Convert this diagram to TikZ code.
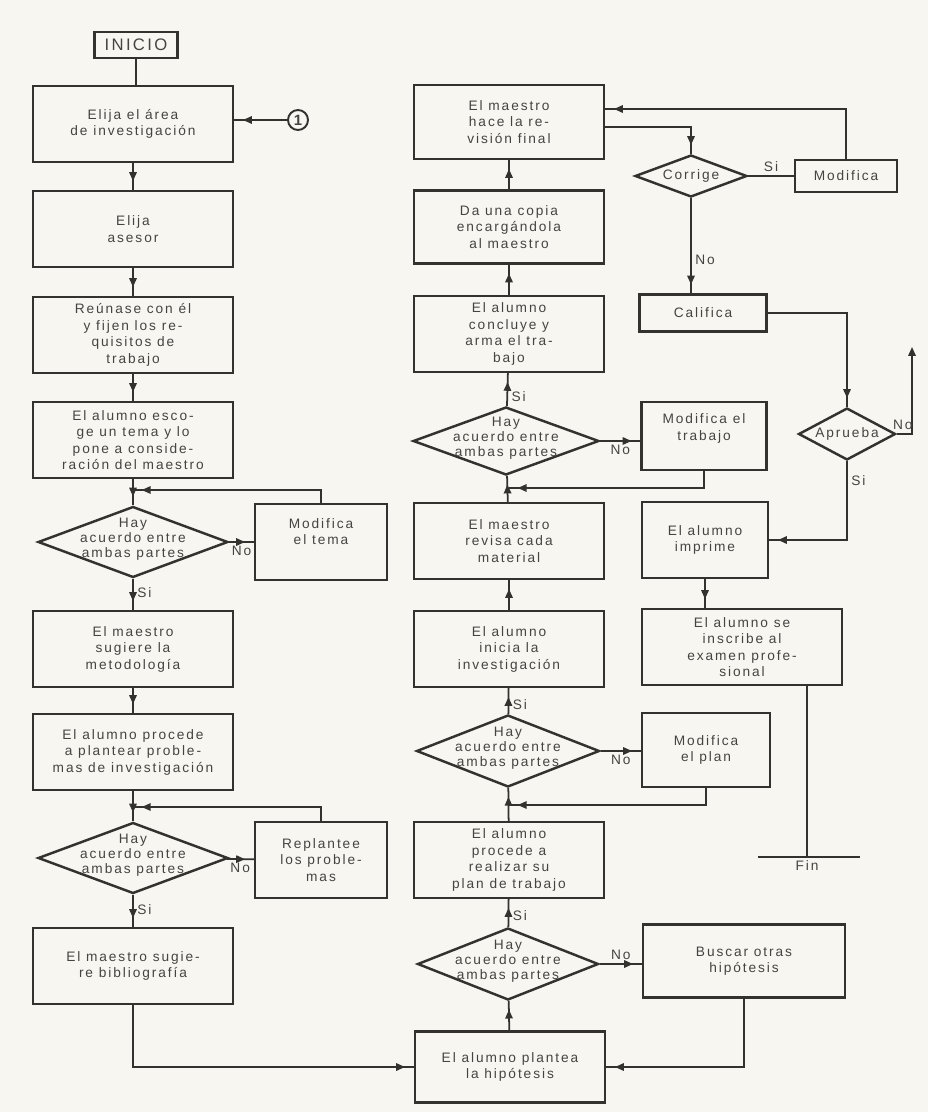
\documentclass[tikz,border=0pt]{standalone}
\usepackage{fontspec}
\setmainfont{Liberation Sans}[LetterSpace=14]
\usepackage{tikz}
\usetikzlibrary{calc,arrows.meta,shapes.geometric,decorations.markings}

\definecolor{paper}{RGB}{248,246,240}
\definecolor{ink}{RGB}{52,50,47}
\definecolor{print}{RGB}{70,68,65}

\newcommand{\hayacuerdo}{Hay\\acuerdo entre\\ambas partes}

\tikzset{
  every node/.style={text=print, font=\fontsize{7.8}{9.4}\selectfont},
  flowbox/.style={rectangle, draw=ink, line width=1.4pt, align=center,
    minimum width=#1, minimum height=1.52cm, inner sep=1pt},
  flowbox/.default=4cm,
  rhombus/.style={diamond, draw=ink, line width=1.4pt, inner sep=0pt,
    minimum width=3.8cm, minimum height=1.42cm},
  decision/.style={rhombus,
    label={[align=center, yshift=1.5pt, font=\fontsize{7.8}{8.4}\selectfont]center:#1}},
  smalldecision/.style={rhombus, label={center:#1}},
  link/.style={draw=ink, line width=1pt},
  flow/.style={link, postaction={decorate},
    decoration={markings, mark=at position -5pt with {\arrow{Triangle[length=5pt,width=4.2pt]}}}},
  tag/.style={inner sep=2pt},
}

\begin{document}
\begin{tikzpicture}[x=0.02cm, y=-0.02cm]
  \fill[paper] (0,0) rectangle (928,1112);
  \useasboundingbox (0,0) rectangle (928,1112);

  % Left column
  \node[flowbox, minimum width=1.66cm, minimum height=0.52cm,
    font=\fontsize{9.5}{11}\selectfont] (inicio) at (136,45) {INICIO};
  \node[flowbox] (area) at (133,124) {Elija el área\\de investigación};
  \node[flowbox] (asesor) at (133,229) {Elija\\asesor};
  \node[flowbox] (reunion) at (133,335) {Reúnase con él\\y fijen los re-\\quisitos de\\trabajo};
  \node[flowbox] (tema) at (133,440) {El alumno esco-\\ge un tema y lo\\pone a conside-\\ración del maestro};
  \node[decision=\hayacuerdo] (acuerdoA) at (133,542) {};
  \node[flowbox] (metodo) at (133,649) {El maestro\\sugiere la\\metodología};
  \node[flowbox] (problemas) at (133,752) {El alumno procede\\a plantear proble-\\mas de investigación};
  \node[decision=\hayacuerdo] (acuerdoB) at (133,858) {};
  \node[flowbox] (biblio) at (133,966) {El maestro sugie-\\re bibliografía};

  \node[circle, draw=ink, line width=1.1pt, minimum size=0.4cm, inner sep=0pt,
    font=\bfseries\fontsize{8.5}{9}\selectfont] (uno) at (298,120) {1};

  % Side boxes of the left column
  \node[flowbox=2.64cm, text depth=12pt] (modtema) at (321,542) {Modifica\\el tema};
  \node[flowbox=2.64cm] (replantee) at (321,860) {Replantee\\los proble-\\mas};

  % Middle column
  \node[flowbox=3.8cm, minimum height=1.48cm] (revision) at (509,122) {El maestro\\hace la re-\\visión final};
  \node[flowbox=3.8cm, minimum height=1.46cm] (copia) at (509,227) {Da una copia\\encargándola\\al maestro};
  \node[flowbox=3.8cm] (concluye) at (509,334) {El alumno\\concluye y\\arma el tra-\\bajo};
  \node[decision=\hayacuerdo, minimum width=3.72cm, minimum height=1.36cm] (acuerdoC) at (506,441) {};
  \node[flowbox=3.8cm] (revisa) at (509,541) {El maestro\\revisa cada\\material};
  \node[flowbox=3.8cm] (inicia) at (509,649) {El alumno\\inicia la\\investigación};
  \node[decision=\hayacuerdo, minimum width=3.66cm, minimum height=1.44cm] (acuerdoD) at (508,751) {};
  \node[flowbox=3.8cm] (realiza) at (509,860) {El alumno\\procede a\\realizar su\\plan de trabajo};
  \node[decision=\hayacuerdo, minimum width=3.62cm, minimum height=1.44cm] (acuerdoE) at (508,964) {};
  \node[flowbox=3.8cm, minimum height=1.42cm] (hipotesis) at (510,1067) {El alumno plantea\\la hipótesis};

  % Right column
  \node[smalldecision=Corrige, minimum width=2.24cm, minimum height=0.84cm] (corrige) at (691,176) {};
  \node[flowbox=2.04cm, minimum height=0.64cm] (modifica) at (846,176) {Modifica};
  \node[flowbox=2.54cm, minimum height=0.74cm] (califica) at (703,313) {Califica};
  \node[smalldecision=Aprueba, minimum width=1.94cm, minimum height=1.04cm] (aprueba) at (847,434) {};
  \node[flowbox=2.5cm, minimum height=1.36cm, text depth=10pt] (modtrabajo) at (704,436) {Modifica el\\trabajo};
  \node[flowbox=2.52cm] (imprime) at (705,540) {El alumno\\imprime};
  \node[flowbox=4cm] (inscribe) at (742,647) {El alumno se\\inscribe al\\examen profe-\\sional};
  \node[flowbox=2.56cm, minimum height=1.48cm] (modplan) at (706,750) {Modifica\\el plan};
  \node[flowbox=4.04cm, minimum height=1.46cm] (buscar) at (744,961) {Buscar otras\\hipótesis};

  % Merge points
  \coordinate (mergeA) at (133,490);
  \coordinate (mergeB) at (133,807);
  \coordinate (mergeC) at (509,488);
  \coordinate (mergeD) at (509,805);
  \coordinate (salida) at (912,347);
  \coordinate (fin) at (807,857);

  % Left column connectors
  \draw[link] (inicio.south) -- (inicio.south |- area.north);
  \draw[flow] (uno) -- (uno -| area.east);
  \foreach \a/\b in {area/asesor, asesor/reunion, reunion/tema, tema/acuerdoA,
                     metodo/problemas, problemas/acuerdoB}
    \draw[flow] (\a) -- (\b);
  \draw[flow] (acuerdoA) -- node[tag, right, pos=0.45] {Si} (metodo);
  \draw[flow] (acuerdoA) -- node[tag, below] {No} (modtema);
  \draw[flow] (modtema.north) |- (mergeA);
  \draw[flow] (acuerdoB) -- node[tag, right, pos=0.45] {Si} (biblio);
  \draw[flow] (acuerdoB) -- node[tag, below] {No} (replantee);
  \draw[flow] (replantee.north) |- (mergeB);
  \draw[flow] (biblio.south) |- (hipotesis.west);

  % Middle column connectors
  \draw[flow] (hipotesis) -- (acuerdoE);
  \draw[flow] (acuerdoE) -- node[tag, right, pos=0.4] {Si} (realiza);
  \draw[flow] (realiza) -- (acuerdoD);
  \draw[flow] (acuerdoD) -- node[tag, right, pos=0.35] {Si} (inicia);
  \draw[flow] (inicia) -- (revisa);
  \draw[flow] (revisa) -- (acuerdoC);
  \draw[flow] (acuerdoC) -- node[tag, right, pos=0.3] {Si} (concluye);
  \draw[flow] (concluye) -- (copia);
  \draw[flow] (copia) -- (revision);

  % Loops on the right
  \draw[flow] (acuerdoC.east) -- node[tag, below] {No} (acuerdoC.east -| modtrabajo.west);
  \draw[flow] (modtrabajo.south) |- (mergeC);
  \draw[flow] (acuerdoD.east) -- node[tag, below] {No} (acuerdoD.east -| modplan.west);
  \draw[flow] (modplan.south) |- (mergeD);
  \draw[flow] (acuerdoE.east) -- node[tag, above] {No} (acuerdoE.east -| buscar.west);
  \draw[flow] (buscar.south) |- (hipotesis.east);

  % Final review
  \draw[flow] (modifica.north) |- ($(revision.east)+(0,-13)$);
  \draw[flow] ($(revision.east)+(0,5)$) -| (corrige.north);
  \draw[link] (corrige) -- node[tag, above] {Si} (modifica);
  \draw[flow] (corrige.south) -- node[tag, right, pos=0.65] {No} (corrige.south |- califica.north);
  \draw[flow] (califica.east) -| (aprueba.north);
  \draw[link, -{Triangle[length=5pt,width=4.2pt]}] (aprueba.east) -| node[tag, above, pos=0.2] {No} (salida);
  \draw[flow] (aprueba.south) |- node[tag, right, pos=0.12] {Si} (imprime.east);
  \draw[flow] (imprime) -- (imprime |- inscribe.north);
  \draw[link] (inscribe.south -| fin) -- (fin);
  \draw[link] ([xshift=-28pt]fin) -- ([xshift=30pt]fin);
  \node[tag, below] (finlabel) at (fin) {Fin};
\end{tikzpicture}
\end{document}
